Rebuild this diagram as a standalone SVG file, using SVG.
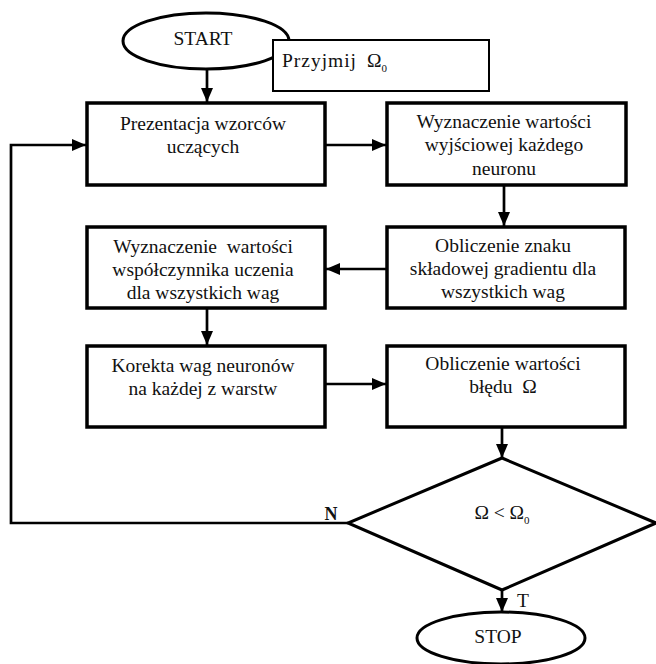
<svg xmlns="http://www.w3.org/2000/svg" width="656" height="664" viewBox="0 0 656 664">
  <defs>
    <marker id="arrow" viewBox="0 0 14 12" refX="14" refY="6" markerWidth="14" markerHeight="12" markerUnits="userSpaceOnUse" orient="auto">
      <path d="M0,0 L14,6 L0,12 Z" fill="#000"/>
    </marker>
  </defs>
  <style>
    text { font-family: "Liberation Serif", "Times New Roman", serif; font-size: 19.5px; fill: #111; text-anchor: middle; white-space: pre; }
    .box { fill: #fff; stroke: #000; stroke-width: 3.5; }
    .term { fill: #fff; stroke: #000; stroke-width: 3; }
    .note { fill: #fff; stroke: #000; stroke-width: 2; }
    .edge { fill: none; stroke: #000; stroke-width: 2.7; }
    .sub { font-size: 11px; }
    .lbl { font-size: 18px; font-weight: bold; }
  </style>
  <rect width="656" height="664" fill="#fff"/>

  <!-- connectors -->
  <g id="connectors">
    <line class="edge" x1="207" y1="70" x2="207" y2="102" marker-end="url(#arrow)"/>
    <line class="edge" x1="325" y1="145" x2="386" y2="145" marker-end="url(#arrow)"/>
    <line class="edge" x1="504" y1="185" x2="504" y2="226" marker-end="url(#arrow)"/>
    <line class="edge" x1="387" y1="269" x2="326" y2="269" marker-end="url(#arrow)"/>
    <line class="edge" x1="207" y1="308" x2="207" y2="345" marker-end="url(#arrow)"/>
    <line class="edge" x1="325" y1="384" x2="386" y2="384" marker-end="url(#arrow)"/>
    <line class="edge" x1="502" y1="427" x2="502" y2="458" marker-end="url(#arrow)"/>
    <line class="edge" x1="502" y1="590" x2="502" y2="612" marker-end="url(#arrow)"/>
    <polyline class="edge" points="348,523 11,523 11,145 86,145" marker-end="url(#arrow)"/>
    <text class="lbl" x="331" y="520">N</text>
    <text x="523" y="607">T</text>
  </g>

  <!-- start terminal -->
  <g id="start">
    <ellipse class="term" cx="206" cy="41" rx="83" ry="28"/>
    <text x="203" y="45">START</text>
  </g>

  <!-- initial setting note -->
  <g id="init">
    <rect class="note" x="273" y="40" width="216" height="51"/>
    <text x="282" y="67" style="text-anchor:start" textLength="74" lengthAdjust="spacing">Przyjmij</text>
    <text x="367" y="67" style="text-anchor:start">Ω<tspan class="sub" dy="5">0</tspan></text>
  </g>

  <g id="present">
    <rect class="box" x="87" y="103" width="238" height="82"/>
    <text x="203" y="130">Prezentacja wzorców</text>
    <text x="203" y="153">uczących</text>
  </g>

  <g id="output">
    <rect class="box" x="387" y="103" width="239" height="82"/>
    <text x="504" y="128">Wyznaczenie wartości</text>
    <text x="504" y="151">wyjściowej każdego</text>
    <text x="504" y="175">neuronu</text>
  </g>

  <g id="gradient-sign">
    <rect class="box" x="387" y="227" width="238" height="81"/>
    <text x="503" y="252">Obliczenie znaku</text>
    <text x="503" y="275">składowej gradientu dla</text>
    <text x="503" y="298">wszystkich wag</text>
  </g>

  <g id="learning-rate">
    <rect class="box" x="87" y="227" width="238" height="81"/>
    <text x="203" y="253">Wyznaczenie  wartości</text>
    <text x="203" y="276">współczynnika uczenia</text>
    <text x="203" y="299">dla wszystkich wag</text>
  </g>

  <g id="correction">
    <rect class="box" x="87" y="346" width="238" height="81"/>
    <text x="203" y="372">Korekta wag neuronów</text>
    <text x="203" y="395">na każdej z warstw</text>
  </g>

  <g id="error">
    <rect class="box" x="387" y="346" width="238" height="81"/>
    <text x="503" y="370">Obliczenie wartości</text>
    <text x="503" y="393">błędu  Ω</text>
  </g>

  <g id="decision">
    <polygon points="502,458 656,523 502,590 348,523" fill="#fff" stroke="#000" stroke-width="3"/>
    <text x="502" y="519">Ω &lt; Ω<tspan class="sub" dy="5">0</tspan></text>
  </g>

  <g id="stop">
    <ellipse class="term" cx="501" cy="638" rx="84" ry="26"/>
    <text x="498" y="643">STOP</text>
  </g>
</svg>
